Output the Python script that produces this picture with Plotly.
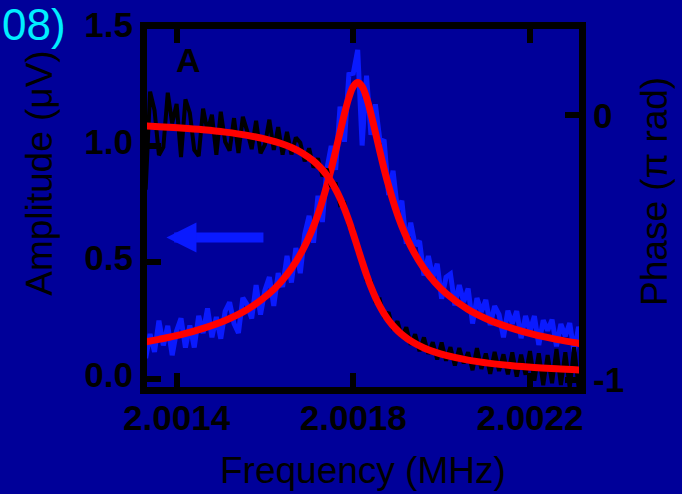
import numpy as np
import plotly.graph_objects as go

# Measured sweep: 101 samples, 10 Hz apart
freq_start_mhz = 2.00132
freq_step_mhz = 0.00001
n_samples = 101

amplitude_uv = [
    0.214, 0.088, 0.191, 0.114, 0.248, 0.142, 0.226, 0.100, 0.204, 0.258,
    0.133, 0.228, 0.133, 0.269, 0.195, 0.301, 0.177, 0.264, 0.171, 0.289,
    0.327, 0.236, 0.195, 0.346, 0.316, 0.258, 0.401, 0.274, 0.379, 0.435,
    0.312, 0.452, 0.393, 0.526, 0.412, 0.560, 0.452, 0.618, 0.698, 0.583,
    0.784, 0.672, 0.897, 0.998, 0.896, 1.167, 1.016, 1.305, 1.310, 1.410,
    1.000, 1.300, 1.046, 1.177, 1.026, 1.018, 0.787, 0.892, 0.724, 0.763,
    0.578, 0.668, 0.572, 0.590, 0.442, 0.526, 0.433, 0.492, 0.342, 0.435,
    0.449, 0.314, 0.401, 0.328, 0.386, 0.236, 0.345, 0.286, 0.337, 0.229,
    0.311, 0.274, 0.177, 0.291, 0.235, 0.289, 0.173, 0.268, 0.203, 0.268,
    0.144, 0.250, 0.206, 0.252, 0.138, 0.234, 0.181, 0.238, 0.114, 0.221,
    0.178,
]

phase_pi_rad = [
    0.071, -0.280, 0.090, 0.020, -0.150, -0.120, 0.086, -0.030, 0.044, -0.157,
    0.061, 0.010, -0.130, -0.153, 0.026, -0.060, 0.003, -0.149, 0.014, -0.100,
    -0.133, -0.010, -0.142, -0.005, -0.060, -0.127, -0.020, -0.143, -0.110, -0.016,
    -0.130, -0.044, -0.148, -0.062, -0.147, -0.083, -0.103, -0.173, -0.124, -0.197,
    -0.162, -0.230, -0.201, -0.270, -0.254, -0.338, -0.332, -0.418, -0.427, -0.515,
    -0.538, -0.622, -0.628, -0.702, -0.696, -0.765, -0.744, -0.810, -0.778, -0.838,
    -0.801, -0.867, -0.827, -0.891, -0.839, -0.901, -0.857, -0.923, -0.858, -0.927,
    -0.876, -0.945, -0.879, -0.937, -0.895, -0.963, -0.880, -0.958, -0.900, -0.977,
    -0.894, -0.966, -0.903, -0.979, -0.896, -0.987, -0.904, -0.980, -0.891, -1.003,
    -0.899, -1.020, -0.906, -1.012, -0.883, -1.019, -0.895, -1.030, -0.876, -1.027,
    -0.888,
]

# Fitted resonance curves
fit_freq_mhz = [
    2.001320, 2.001360, 2.001410, 2.001460, 2.001510, 2.001560, 2.001610,
    2.001635, 2.001660, 2.001685, 2.001710, 2.001725, 2.001740, 2.001750,
    2.001760, 2.001770, 2.001780, 2.001790, 2.001800, 2.001810, 2.001820,
    2.001830, 2.001840, 2.001850, 2.001860, 2.001870, 2.001880, 2.001895,
    2.001910, 2.001935, 2.001960, 2.001985, 2.002010, 2.002060, 2.002110,
    2.002160, 2.002210, 2.002260, 2.002320,
]
fit_amplitude_uv = [
    0.154, 0.168, 0.188, 0.215, 0.249, 0.296, 0.365, 0.412, 0.472, 0.550,
    0.653, 0.732, 0.827, 0.898, 0.976, 1.057, 1.136, 1.205, 1.253, 1.270,
    1.253, 1.205, 1.136, 1.057, 0.976, 0.898, 0.827, 0.732, 0.653, 0.550,
    0.472, 0.412, 0.365, 0.296, 0.249, 0.215, 0.188, 0.168, 0.148,
]
fit_phase_pi_rad = [
    -0.0388, -0.0422, -0.0474, -0.0540, -0.0628, -0.0750, -0.0928, -0.1051,
    -0.1211, -0.1424, -0.1720, -0.1957, -0.2256, -0.2500, -0.2789, -0.3128,
    -0.3524, -0.3976, -0.4474, -0.5000, -0.5526, -0.6024, -0.6476, -0.6872,
    -0.7211, -0.7500, -0.7744, -0.8043, -0.8280, -0.8576, -0.8789, -0.8949,
    -0.9072, -0.9250, -0.9372, -0.9460, -0.9526, -0.9578, -0.9627,
]

x_tick_vals = [2.0014, 2.0018, 2.0022]
x_tick_text = ["2.0014", "2.0018", "2.0022"]
amp_tick_vals = [0.0, 0.5, 1.0, 1.5]
amp_tick_text = ["0.0", "0.5", "1.0", "1.5"]
phase_tick_vals = [0, -1]
phase_tick_text = ["0", "-1"]

freq_mhz = freq_start_mhz + freq_step_mhz * np.arange(n_samples)

BG = "#000099"
DATA_BLUE = "#0a1aff"
FIT_RED = "#ff0000"
FONT = "Liberation Sans, Arial, sans-serif"

fig = go.Figure()
fig.add_trace(go.Scatter(x=freq_mhz, y=amplitude_uv, mode="lines",
                         line=dict(color=DATA_BLUE, width=5), yaxis="y"))
fig.add_trace(go.Scatter(x=fit_freq_mhz, y=fit_amplitude_uv, mode="lines",
                         line=dict(color=FIT_RED, width=7, shape="spline"), yaxis="y"))
fig.add_trace(go.Scatter(x=freq_mhz, y=phase_pi_rad, mode="lines",
                         line=dict(color="black", width=4), yaxis="y2"))
fig.add_trace(go.Scatter(x=fit_freq_mhz, y=fit_phase_pi_rad, mode="lines",
                         line=dict(color=FIT_RED, width=7, shape="spline"), yaxis="y2"))

tick_font = dict(family=FONT, size=35, color="black", weight="bold")
axis_common = dict(showline=True, linecolor="black", linewidth=7,
                   ticks="inside", tickcolor="black", ticklen=14, tickwidth=6,
                   showgrid=False, zeroline=False, automargin=False, tickfont=tick_font)

fig.update_layout(
    width=682, height=494,
    margin=dict(l=147, r=103, t=29, b=107),
    paper_bgcolor=BG, plot_bgcolor=BG,
    showlegend=False,
    xaxis=dict(range=[2.001333, 2.002311], tickvals=x_tick_vals, ticktext=x_tick_text,
               mirror="ticks", ticklabelstandoff=-6, **axis_common),
    yaxis=dict(range=[-0.0365, 1.5], tickvals=amp_tick_vals, ticktext=amp_tick_text,
               ticklabelshift=-4, **axis_common),
    yaxis2=dict(range=[-1.0265, 0.327], tickvals=phase_tick_vals, ticktext=phase_tick_text,
                overlaying="y", side="right", **axis_common),
)

title_font = dict(family=FONT, size=37, color="black")
centered = dict(xref="paper", yref="paper", xanchor="center", yanchor="middle",
                showarrow=False)
fig.add_annotation(text="Frequency (MHz)", x=0.501, y=-0.232, font=title_font, **centered)
fig.add_annotation(text="Amplitude (\u03bcV)", x=-0.248, y=0.598, textangle=-90,
                   font=title_font, **centered)
fig.add_annotation(text="Phase (\u03c0 rad)", x=1.176, y=0.545, textangle=-90,
                   font=title_font, **centered)
fig.add_annotation(text="A", x=0.095, y=0.913,
                   font=dict(family=FONT, size=34, color="black", weight="bold"),
                   **centered)
fig.add_annotation(text="08)", xref="paper", yref="paper", x=-0.340, y=1.0123,
                   xanchor="left", yanchor="middle", showarrow=False,
                   font=dict(family=FONT, size=44, color="#00eeff"))
# Arrow pointing to the amplitude axis
fig.add_annotation(x=2.001377, y=0.605, ax=2.0016, ay=0.605, xref="x", yref="y",
                   axref="x", ayref="y", text="", showarrow=True,
                   arrowhead=2, arrowsize=0.6, arrowwidth=10, arrowcolor=DATA_BLUE)

fig.write_html("out.html")
